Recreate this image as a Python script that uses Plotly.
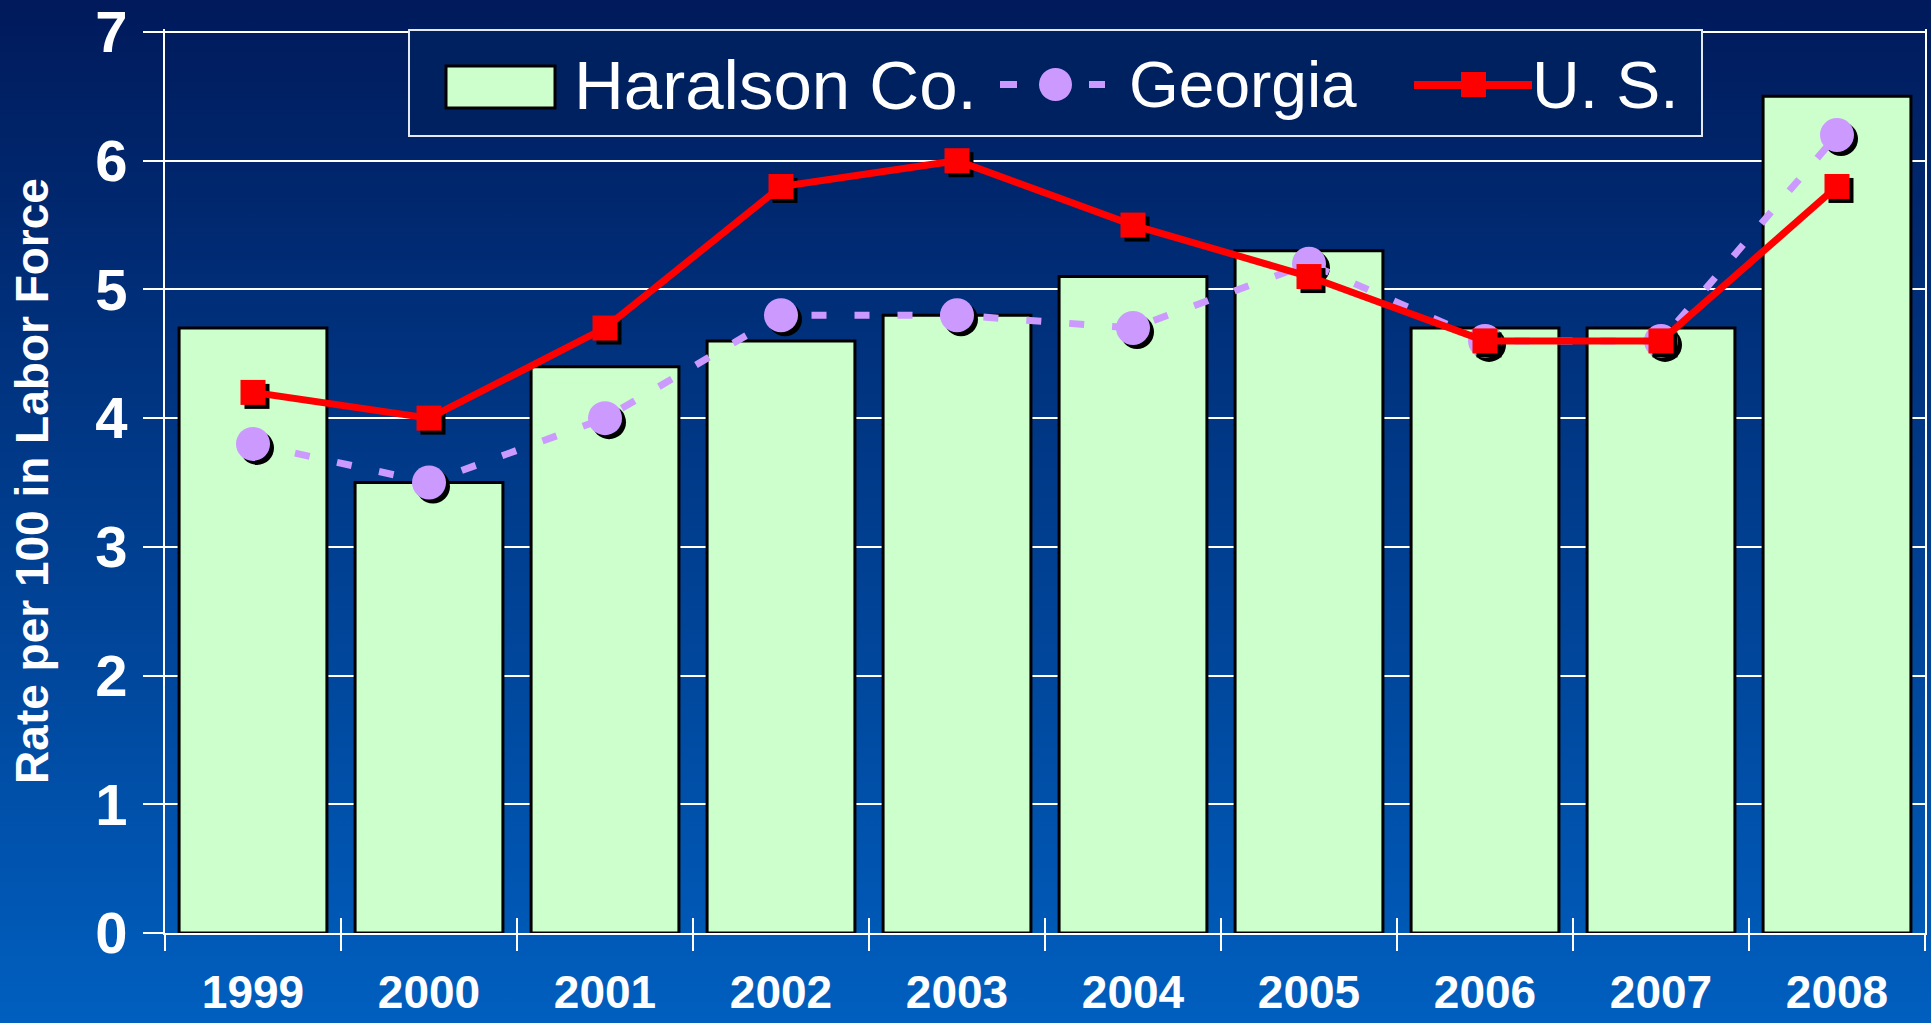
import base64
import plotly.graph_objects as go

# ---------------- data ----------------
years = ["1999", "2000", "2001", "2002", "2003", "2004", "2005", "2006", "2007", "2008"]
haralson = [4.7, 3.5, 4.4, 4.6, 4.8, 5.1, 5.3, 4.7, 4.7, 6.5]
georgia = [3.8, 3.5, 4.0, 4.8, 4.8, 4.7, 5.2, 4.6, 4.6, 6.2]
us = [4.2, 4.0, 4.7, 5.8, 6.0, 5.5, 5.1, 4.6, 4.6, 5.8]
y_ticks = [0, 1, 2, 3, 4, 5, 6, 7]
series_names = ["Haralson Co.", "Georgia", "U. S."]
y_title = "Rate per 100 in Labor Force"

# ---------------- styling ----------------
W, H = 1931, 1023
AX_L, AX_R = 165, 1925    # left / right edge of the axes (px)
AX_T, AX_B = 32, 933      # pixel rows of y=7 and y=0
PAD_T = 3                 # keep top gridline off the plot edge
SH = 4                    # shadow offset (px)
L, T = AX_L, AX_T - PAD_T
PW, PH = AX_R + SH - L, AX_B + SH - T
Y_TOP = y_ticks[-1] * (AX_B - T) / (AX_B - AX_T)
Y_RANGE = [0, Y_TOP]

BAR_FILL = "#CCFFCC"
GA_COL = "#CC99FF"
US_COL = "#FF0000"
WHITE = "#FFFFFF"
BOLD = "Liberation Sans, Arial, sans-serif"
NARROW = "Liberation Sans Narrow, Arial Narrow, Liberation Sans, sans-serif"


def px_x(px):
    return (px - L) / PW


def px_y(py):
    return (T + PH - py) / PH


main_xdom = [0, px_x(AX_R)]
main_ydom = [px_y(AX_B), 1]
sh_xdom = [px_x(L + SH), 1]
sh_ydom = [0, px_y(T + SH)]

fig = go.Figure()

fig.add_trace(go.Bar(
    x=years, y=haralson, name=series_names[0],
    marker=dict(color=BAR_FILL, line=dict(color="black", width=3)),
    xaxis="x", yaxis="y", showlegend=False,
))
fig.add_trace(go.Scatter(
    x=years, y=georgia, mode="markers",
    marker=dict(symbol="circle", size=34, color="black"),
    xaxis="x2", yaxis="y2", showlegend=False, hoverinfo="skip",
))
fig.add_trace(go.Scatter(
    x=years, y=georgia, mode="lines+markers", name=series_names[1],
    line=dict(color=GA_COL, width=7, dash="15px,28px"),
    marker=dict(symbol="circle", size=34, color=GA_COL),
    xaxis="x3", yaxis="y3", showlegend=False,
))
fig.add_trace(go.Scatter(
    x=years, y=us, mode="markers",
    marker=dict(symbol="square", size=25, color="black"),
    xaxis="x4", yaxis="y4", showlegend=False, hoverinfo="skip",
))
fig.add_trace(go.Scatter(
    x=years, y=us, mode="lines+markers", name=series_names[2],
    line=dict(color=US_COL, width=7),
    marker=dict(symbol="square", size=25, color=US_COL),
    xaxis="x5", yaxis="y5", showlegend=False,
))

hidden_x = dict(type="category", range=[-0.5, 9.5], visible=False, fixedrange=True)
hidden_y = dict(range=Y_RANGE, visible=False, fixedrange=True)

fig.update_layout(
    width=W, height=H,
    margin=dict(l=L, r=W - L - PW, t=T, b=H - T - PH, autoexpand=False),
    paper_bgcolor="#003A8C",
    plot_bgcolor="rgba(0,0,0,0)",
    bargap=0.16,
    showlegend=False,
    xaxis=dict(
        type="category", range=[-0.5, 9.5], domain=main_xdom, anchor="y",
        tickson="boundaries", ticks="outside", ticklen=16, tickwidth=2, tickcolor=WHITE,
        showline=True, linecolor=WHITE, linewidth=2, showgrid=False,
        tickfont=dict(family=BOLD, size=46, color=WHITE, weight="bold"),
        ticklabelstandoff=18, ticklabeloverflow="allow",
        automargin=False, fixedrange=True,
    ),
    yaxis=dict(
        range=Y_RANGE, domain=main_ydom, anchor="x",
        tickvals=y_ticks, ticks="outside", ticklen=20, tickwidth=2, tickcolor=WHITE,
        showline=True, linecolor=WHITE, linewidth=2, mirror=True,
        showgrid=True, gridcolor=WHITE, gridwidth=2, zeroline=False,
        tickfont=dict(family=BOLD, size=58, color=WHITE, weight="bold"),
        ticklabelstandoff=4, ticklabeloverflow="allow",
        automargin=False, fixedrange=True,
        title=dict(text=y_title, standoff=32,
                   font=dict(family=BOLD, size=46, color=WHITE, weight="bold")),
    ),
    xaxis2=dict(hidden_x, domain=sh_xdom, anchor="y2"),
    yaxis2=dict(hidden_y, domain=sh_ydom, anchor="x2"),
    xaxis3=dict(
        type="category", range=[-0.5, 9.5], domain=main_xdom, anchor="y3",
        tickson="boundaries", ticks="inside", ticklen=15, tickwidth=2, tickcolor=WHITE,
        showticklabels=False, showline=False, showgrid=False, fixedrange=True,
    ),
    yaxis3=dict(hidden_y, domain=main_ydom, anchor="x3"),
    xaxis4=dict(hidden_x, domain=sh_xdom, anchor="y4"),
    yaxis4=dict(hidden_y, domain=sh_ydom, anchor="x4"),
    xaxis5=dict(hidden_x, domain=main_xdom, anchor="y5"),
    yaxis5=dict(hidden_y, domain=main_ydom, anchor="x5"),
)

# background gradient (styling only)
svg = (
    "<svg xmlns='http://www.w3.org/2000/svg' width='1931' height='1023' preserveAspectRatio='none'>"
    "<defs><linearGradient id='g' x1='0' y1='0' x2='0' y2='1'>"
    "<stop offset='0' stop-color='#001A5B'/><stop offset='1' stop-color='#005FBF'/>"
    "</linearGradient></defs><rect width='1931' height='1023' fill='url(#g)'/></svg>"
)
src = "data:image/svg+xml;base64," + base64.b64encode(svg.encode()).decode()
fig.add_layout_image(dict(
    source=src, xref="paper", yref="paper", x=px_x(0), y=px_y(0),
    sizex=W / PW, sizey=H / PH, xanchor="left", yanchor="top",
    sizing="stretch", layer="below",
))

# ---------------- custom legend ----------------
def rect(x0, y0, x1, y1, **kw):
    fig.add_shape(type="rect", xref="paper", yref="paper",
                  x0=px_x(x0), x1=px_x(x1), y0=px_y(y1), y1=px_y(y0), **kw)


def seg(x0, x1, yc, color, width):
    fig.add_shape(type="line", xref="paper", yref="paper",
                  x0=px_x(x0), x1=px_x(x1), y0=px_y(yc), y1=px_y(yc),
                  line=dict(color=color, width=width))


def label(xpx, text, size=70):
    fig.add_annotation(xref="paper", yref="paper", x=px_x(xpx), y=px_y(85),
                       xanchor="left", yanchor="middle", showarrow=False, text=text,
                       font=dict(family=NARROW, size=size, color=WHITE))


rect(409, 30, 1702, 136, fillcolor="#00215F", line=dict(color="#E4E8F2", width=2))
rect(446, 66, 555, 108, fillcolor=BAR_FILL, line=dict(color="black", width=3))
label(572, series_names[0], 69)

seg(1000, 1017, 84.5, GA_COL, 7)
seg(1089, 1105, 84.5, GA_COL, 7)
fig.add_shape(type="circle", xref="paper", yref="paper",
              x0=px_x(1039), x1=px_x(1072), y0=px_y(101), y1=px_y(68),
              fillcolor=GA_COL, line=dict(width=0))
label(1127, series_names[1], 64)

seg(1414, 1532, 85, US_COL, 8)
rect(1461, 72, 1486, 97, fillcolor=US_COL, line=dict(width=0))
label(1530, series_names[2], 66)

fig.write_html("out.html", config={"displayModeBar": False},
               post_script="document.body.style.margin='0';")
